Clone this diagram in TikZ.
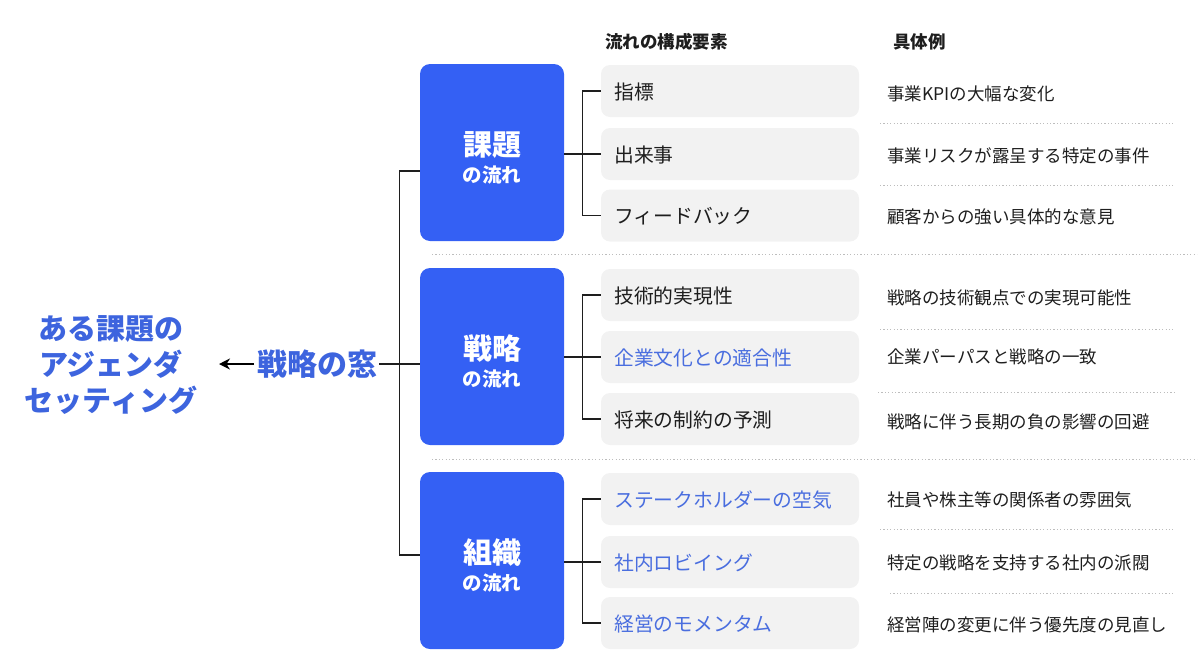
\documentclass[tikz,border=0pt]{standalone}
\usepackage{fontspec}
\setmainfont{Noto Sans CJK JP}
\usetikzlibrary{arrows.meta,calc}
\definecolor{boxblue}{HTML}{3460F4}
\definecolor{txtblue}{HTML}{3D64DE}
\definecolor{itemblue}{HTML}{4A6EDF}
\definecolor{graybg}{HTML}{F2F2F2}
\definecolor{ink}{HTML}{1E1E1E}
\definecolor{dotgray}{HTML}{BDBDBD}
\tikzset{
  flowbox/.style={fill=boxblue, rounded corners=10pt, minimum width=144pt, minimum height=177pt, inner sep=0pt},
  flowtext/.style={text=white, align=center, inner sep=0pt, font=\fontsize{20}{27}\selectfont\bfseries},
  itembox/.style={fill=graybg, rounded corners=9pt, minimum width=258pt, minimum height=52pt, inner sep=0pt},
  itemtext/.style={anchor=west, font=\fontsize{19.8}{22}\selectfont, text=ink, inner sep=0pt},
  itemtextblue/.style={itemtext, text=itemblue},
  extext/.style={anchor=west, font=\fontsize{17.5}{20}\selectfont, text=ink, inner sep=0pt},
  header/.style={anchor=west, font=\fontsize{17.5}{20}\selectfont\bfseries, text=ink, inner sep=0pt},
  conn/.style={draw=ink, line width=1.1pt},
  sep/.style={draw=dotgray, line width=0.8pt, dash pattern=on 1.2pt off 2.2pt},
  arr/.style={draw=black, line width=2pt, -{Stealth[length=11pt,width=11pt]}},
}
\begin{document}
\begin{tikzpicture}[x=1pt,y=-1pt]
\useasboundingbox (0,0) rectangle (1200,670);

% headers
\node[header] (h1) at (605,42) {流れの構成要素};
\node[header] (h2) at (893,42) {具体例};

% blue flow boxes
\node[flowbox] (b1) at (492,152.5) {};
\node[flowbox] (b2) at (492,356.5) {};
\node[flowbox] (b3) at (492,560.5) {};
\node[flowtext] (f1) at ($(b1.center)+(0,5)$) {{\fontsize{29}{32}\selectfont 課題}\\{\fontsize{19.5}{22}\selectfont の流れ}};
\node[flowtext] (f2) at ($(b2.center)+(0,5)$) {{\fontsize{29}{32}\selectfont 戦略}\\{\fontsize{19.5}{22}\selectfont の流れ}};
\node[flowtext] (f3) at ($(b3.center)+(0,5)$) {{\fontsize{29}{32}\selectfont 組織}\\{\fontsize{19.5}{22}\selectfont の流れ}};

% gray item boxes
\node[itembox] (c11) at (730,91) {};
\node[itembox] (c12) at (730,154) {};
\node[itembox] (c13) at (730,215.5) {};
\node[itembox] (c21) at (730,295) {};
\node[itembox] (c22) at (730,357) {};
\node[itembox] (c23) at (730,419) {};
\node[itembox] (c31) at (730,499) {};
\node[itembox] (c32) at (730,562) {};
\node[itembox] (c33) at (730,623) {};

\node[itemtext] (t11) at (614,92) {指標};
\node[itemtext] (t12) at (614,155) {出来事};
\node[itemtext] (t13) at (614,216.5) {フィードバック};
\node[itemtext] (t21) at (614,296) {技術的実現性};
\node[itemtextblue] (t22) at (614,358) {企業文化との適合性};
\node[itemtext] (t23) at (614,420) {将来の制約の予測};
\node[itemtextblue] (t31) at (614,500) {ステークホルダーの空気};
\node[itemtextblue] (t32) at (614,563) {社内ロビイング};
\node[itemtextblue] (t33) at (614,624) {経営のモメンタム};

% example texts
\node[extext] (e11) at (887,94) {事業KPIの大幅な変化};
\node[extext] (e12) at (887,156) {事業リスクが露呈する特定の事件};
\node[extext] (e13) at (887,217) {顧客からの強い具体的な意見};
\node[extext] (e21) at (887,298) {戦略の技術観点での実現可能性};
\node[extext] (e22) at (887,357) {企業パーパスと戦略の一致};
\node[extext] (e23) at (887,422) {戦略に伴う長期の負の影響の回避};
\node[extext] (e31) at (887,500) {社員や株主等の関係者の雰囲気};
\node[extext] (e32) at (887,563) {特定の戦略を支持する社内の派閥};
\node[extext] (e33) at (887,625) {経営陣の変更に伴う優先度の見直し};

% dotted separators
\draw[sep] (880,123) -- (1173,123);
\draw[sep] (880,185) -- (1173,185);
\draw[sep] (432,254) -- (1197,254);
\draw[sep] (880,329) -- (1173,329);
\draw[sep] (878,392) -- (1176,392);
\draw[sep] (432,459) -- (1197,459);
\draw[sep] (880,529) -- (1173,529);
\draw[sep] (890,593) -- (1173,593);

% item trees
\foreach \g in {1,2,3}{
  \draw[conn] (c\g2.west) -- (c\g2.west -| b\g.east);
  \draw[conn] (c\g1.west) -- ++(-18,0) |- (c\g3.west);
}

% left labels
\node[font=\fontsize{29}{36}\selectfont\bfseries, text=txtblue, align=center, inner sep=0pt] (title) at (111,365) {ある課題の\\アジェンダ\\セッティング};
\node[font=\fontsize{30}{32}\selectfont\bfseries, text=txtblue, inner sep=0pt, anchor=west] (win) at (257,364) {戦略の窓};
\coordinate (tip) at (219,364);
\draw[arr] (win.west) ++(-3,0) -- (tip);

% main tree
\draw[conn] (win.east) ++(2,0) -- (b2.west |- win.east);
\draw[conn] ($(b1.west)+(0,18.5)$) -- ($(b1.west)+(-20,18.5)$) |- ($(b3.west)+(0,-5.5)$);
\end{tikzpicture}
\end{document}
